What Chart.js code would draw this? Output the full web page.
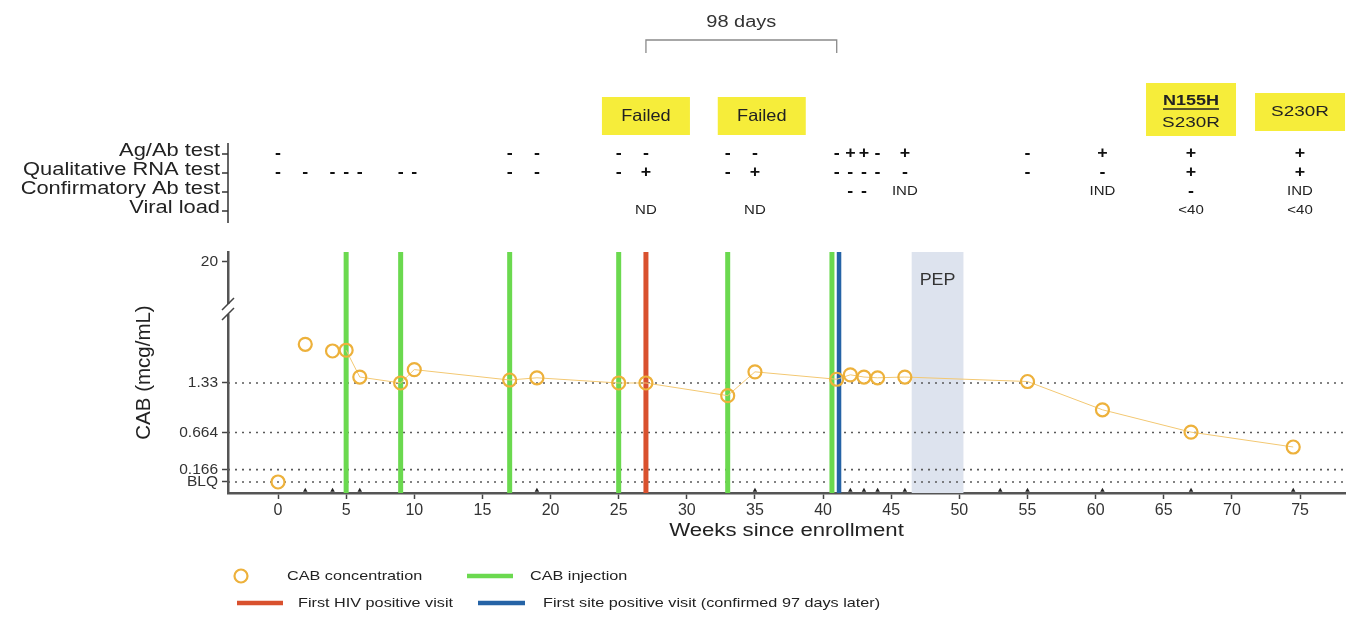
<!DOCTYPE html>
<html>
<head>
<meta charset="utf-8">
<script src="https://cdn.jsdelivr.net/npm/chart.js@4.4.1/dist/chart.umd.min.js"></script>
<style>
html,body{margin:0;padding:0;background:#fff;}
#wrap{width:1358px;height:620px;position:relative;}
</style>
</head>
<body>
<div id="wrap"><canvas id="c" width="1358" height="620"></canvas></div>
<script>
// ---------------- DATA ----------------
const weeks   = [0, 2, 4, 5, 6, 9, 10, 17, 19, 25, 27, 33, 35, 41, 42, 43, 44, 46, 55, 60.5, 67, 74.5];
const cabConc = [0, 1.85, 1.76, 1.77, 1.41, 1.33, 1.51, 1.37, 1.40, 1.33, 1.33, 1.16, 1.48, 1.38, 1.44, 1.41, 1.40, 1.41, 1.35, 0.97, 0.67, 0.47];

const injectionWeeks = [5, 9, 17, 25, 33, 40.65];
const firstHivPositiveWeek = [27];
const firstSitePositiveWeek = [41.17];
const pepWeeks = [46.5, 50.3];
const visitMarkWeeks = [2, 4, 6, 19, 35, 42, 43, 44, 46, 53, 55, 60.5, 67, 74.5];

const xTicks = [0, 5, 10, 15, 20, 25, 30, 35, 40, 45, 50, 55, 60, 65, 70, 75];
const yTickValues = [0, 0.166, 0.664, 1.33, 2.96];
const yTickLabels = ['BLQ', '0.166', '0.664', '1.33', '20'];
const yRefLines = [0, 0.166, 0.664, 1.33];

const rowLabels = ['Ag/Ab test', 'Qualitative RNA test', 'Confirmatory Ab test', 'Viral load'];
const agAbWeeks   = [0, 17, 19, 25, 27, 33, 35, 41, 42, 43, 44, 46, 55, 60.5, 67, 75];
const agAbResults = ['-', '-', '-', '-', '-', '-', '-', '-', '+', '+', '-', '+', '-', '+', '+', '+'];
const rnaWeeks    = [0, 2, 4, 5, 6, 9, 10, 17, 19, 25, 27, 33, 35, 41, 42, 43, 44, 46, 55, 60.5, 67, 75];
const rnaResults  = ['-', '-', '-', '-', '-', '-', '-', '-', '-', '-', '+', '-', '+', '-', '-', '-', '-', '-', '-', '-', '+', '+'];
const confWeeks   = [42, 43, 46, 60.5, 67, 75];
const confResults = ['-', '-', 'IND', 'IND', '-', 'IND'];
const vlWeeks     = [27, 35, 67, 75];
const vlResults   = ['ND', 'ND', '<40', '<40'];

const failedWeeks = [27, 35.5];
const failedLabel = 'Failed';
const resistanceWeeks = [67, 75];
const resistanceLabels = [['N155H', 'S230R'], ['S230R']];
const bracketWeeks = [27, 41];
const bracketLabel = '98 days';
const pepLabel = 'PEP';

const legendLabels = ['CAB concentration', 'CAB injection', 'First HIV positive visit', 'First site positive visit (confirmed 97 days later)'];
const xTitle = 'Weeks since enrollment';
const yTitle = 'CAB (mcg/mL)';

// ---------------- STYLE ----------------
const FAM = "'Liberation Sans', Arial, Helvetica, sans-serif";
const X_MIN = -3.67, X_MAX = 78.3;
const Y_MIN = -0.148, Y_MAX = 3.09;
const C_ORANGE = '#edb13b', C_ORANGE_LINE = '#f3c872';
const C_GREEN = '#6bd94f', C_RED = '#d9512e', C_BLUE = '#2563a6';
const YELLOW = '#f6ed3a';

Chart.defaults.font.family = FAM;

function vlinesData(arr) {
  const out = [];
  arr.forEach(w => { out.push({x: w, y: Y_MIN}); out.push({x: w, y: Y_MAX}); out.push({x: w, y: null}); });
  return out;
}
function hlinesData(arr) {
  const out = [];
  arr.forEach(v => { out.push({x: X_MIN, y: v}); out.push({x: X_MAX, y: v}); out.push({x: X_MAX, y: null}); });
  return out;
}

function txt(ctx, s, x, y, size, opts = {}) {
  ctx.save();
  ctx.font = (opts.bold ? 'bold ' : '') + size + 'px ' + FAM;
  ctx.fillStyle = opts.color || '#222';
  ctx.textBaseline = 'middle';
  ctx.textAlign = opts.align || 'left';
  ctx.translate(x, y);
  if (opts.rot) ctx.rotate(opts.rot);
  ctx.scale(opts.sx || 1.2, 1);
  ctx.fillText(s, 0, 0);
  const w = ctx.measureText(s).width * (opts.sx || 1.2);
  ctx.restore();
  return w;
}

const pepPlugin = {
  id: 'pep',
  beforeDatasetsDraw(chart) {
    const {ctx, chartArea: a, scales: {x}} = chart;
    const x0 = x.getPixelForValue(pepWeeks[0]), x1 = x.getPixelForValue(pepWeeks[1]);
    ctx.save();
    ctx.fillStyle = '#dde3ee';
    ctx.fillRect(x0, a.top, x1 - x0, a.bottom - a.top);
    ctx.restore();
    txt(ctx, pepLabel, (x0 + x1) / 2, 281, 16, {align: 'center', sx: 1.12, color: '#333'});
  }
};

const annoPlugin = {
  id: 'anno',
  afterDraw(chart) {
    const {ctx, chartArea: a, scales: {x, y}} = chart;
    const X = w => x.getPixelForValue(w);

    // --- axis break on y axis ---
    ctx.save();
    const by = 309;
    ctx.fillStyle = '#fff';
    ctx.fillRect(a.left - 3, by - 5, 6, 10);
    ctx.strokeStyle = '#444';
    ctx.lineWidth = 1.5;
    ctx.beginPath();
    ctx.moveTo(a.left - 6, by + 1); ctx.lineTo(a.left + 6, by - 11);
    ctx.moveTo(a.left - 6, by + 11); ctx.lineTo(a.left + 6, by - 1);
    ctx.stroke();
    ctx.restore();

    // --- top test table ---
    const rowY = [153, 172, 191, 210];
    rowLabels.forEach((l, i) => txt(ctx, l, 220, rowY[i] - 2, 17.5, {align: 'right', sx: 1.25, color: '#222'}));
    ctx.save();
    ctx.strokeStyle = '#333'; ctx.lineWidth = 1.5;
    ctx.beginPath();
    ctx.moveTo(228, 143); ctx.lineTo(228, 223);
    rowY.forEach(ry => { ctx.moveTo(222, ry + 1); ctx.lineTo(228, ry + 1); });
    ctx.stroke();
    ctx.restore();
    const rows = [[agAbWeeks, agAbResults], [rnaWeeks, rnaResults], [confWeeks, confResults], [vlWeeks, vlResults]];
    rows.forEach(([ws, rs], i) => {
      ws.forEach((w, j) => {
        const r = rs[j];
        if (r === '+' || r === '-') txt(ctx, r, X(w), rowY[i], 17, {align: 'center', bold: true, sx: 1.05, color: '#111'});
        else txt(ctx, r, X(w), rowY[i] + 1, 12.5, {align: 'center', sx: 1.2, color: '#222'});
      });
    });

    // --- yellow boxes ---
    ctx.save();
    ctx.fillStyle = YELLOW;
    failedWeeks.forEach(w => ctx.fillRect(X(w) - 44, 97, 88, 38));
    resistanceWeeks.forEach((w, i) => {
      if (resistanceLabels[i].length > 1) ctx.fillRect(X(w) - 45, 83, 90, 53);
      else ctx.fillRect(X(w) - 45, 93, 90, 38);
    });
    ctx.restore();
    failedWeeks.forEach(w => txt(ctx, failedLabel, X(w), 116, 16.5, {align: 'center', sx: 1.1, color: '#222'}));
    resistanceWeeks.forEach((w, i) => {
      const labs = resistanceLabels[i];
      if (labs.length > 1) {
        const tw = txt(ctx, labs[0], X(w), 101, 15, {align: 'center', bold: true, sx: 1.2, color: '#222'});
        ctx.save(); ctx.strokeStyle = '#222'; ctx.lineWidth = 1.3;
        ctx.beginPath(); ctx.moveTo(X(w) - tw / 2, 109); ctx.lineTo(X(w) + tw / 2, 109); ctx.stroke(); ctx.restore();
        txt(ctx, labs[1], X(w), 123, 15.5, {align: 'center', sx: 1.22, color: '#222'});
      } else {
        txt(ctx, labs[0], X(w), 112, 15.5, {align: 'center', sx: 1.22, color: '#222'});
      }
    });

    // --- bracket ---
    const b0 = X(bracketWeeks[0]), b1 = X(bracketWeeks[1]);
    ctx.save();
    ctx.strokeStyle = '#8a8a8a'; ctx.lineWidth = 1.3;
    ctx.beginPath();
    ctx.moveTo(b0, 53); ctx.lineTo(b0, 40); ctx.lineTo(b1, 40); ctx.lineTo(b1, 53);
    ctx.stroke();
    ctx.restore();
    txt(ctx, bracketLabel, (b0 + b1) / 2, 23, 16, {align: 'center', sx: 1.25, color: '#333'});

    // --- axis titles ---
    txt(ctx, xTitle, (a.left + a.right) / 2, 531, 18, {align: 'center', sx: 1.23, color: '#222'});
    txt(ctx, yTitle, 144, (a.top + a.bottom) / 2, 20.5, {align: 'center', sx: 1.0, rot: -Math.PI / 2, color: '#222'});

    // --- legend ---
    ctx.save();
    ctx.strokeStyle = C_ORANGE; ctx.lineWidth = 2.2;
    ctx.beginPath(); ctx.arc(241, 576, 6.5, 0, Math.PI * 2); ctx.stroke();
    ctx.lineWidth = 4.5;
    ctx.strokeStyle = C_GREEN; ctx.beginPath(); ctx.moveTo(467, 576); ctx.lineTo(513, 576); ctx.stroke();
    ctx.strokeStyle = C_RED; ctx.beginPath(); ctx.moveTo(237, 603); ctx.lineTo(283, 603); ctx.stroke();
    ctx.strokeStyle = C_BLUE; ctx.beginPath(); ctx.moveTo(478, 603); ctx.lineTo(525, 603); ctx.stroke();
    ctx.restore();
    txt(ctx, legendLabels[0], 287, 576, 13.3, {sx: 1.22, color: '#222'});
    txt(ctx, legendLabels[1], 530, 576, 13.3, {sx: 1.22, color: '#222'});
    txt(ctx, legendLabels[2], 298, 603, 13.3, {sx: 1.22, color: '#222'});
    txt(ctx, legendLabels[3], 543, 603, 13.3, {sx: 1.22, color: '#222'});
  }
};

new Chart(document.getElementById('c'), {
  type: 'line',
  data: {
    datasets: [
      {
        label: 'CAB concentration',
        data: weeks.map((w, i) => ({x: w, y: cabConc[i]})),
        borderColor: C_ORANGE_LINE,
        borderWidth: 1,
        tension: 0,
        pointRadius: 6.5,
        pointBorderWidth: 2.2,
        pointBorderColor: C_ORANGE,
        pointBackgroundColor: 'rgba(255,255,255,0)',
        segment: {borderColor: c => (c.p0.parsed.x < 5 ? 'rgba(0,0,0,0)' : C_ORANGE_LINE)},
        clip: false
      },
      {
        label: 'visits',
        data: visitMarkWeeks.map(w => ({x: w, y: Y_MIN + 0.035})),
        showLine: false,
        pointStyle: 'triangle',
        pointRadius: 2.6,
        pointBackgroundColor: '#222',
        pointBorderColor: '#222',
        pointBorderWidth: 0
      },
      {
        label: 'First site positive visit',
        data: vlinesData(firstSitePositiveWeek),
        borderColor: C_BLUE, borderWidth: 4.5, pointRadius: 0, spanGaps: false
      },
      {
        label: 'CAB injection',
        data: vlinesData(injectionWeeks),
        borderColor: C_GREEN, borderWidth: 5, pointRadius: 0, spanGaps: false
      },
      {
        label: 'First HIV positive visit',
        data: vlinesData(firstHivPositiveWeek),
        borderColor: C_RED, borderWidth: 5, pointRadius: 0, spanGaps: false
      },
      {
        label: 'ref',
        data: hlinesData(yRefLines),
        borderColor: '#5a5a5a', borderWidth: 1.6, borderDash: [2, 5], pointRadius: 0, spanGaps: false
      }
    ]
  },
  options: {
    responsive: false,
    animation: false,
    devicePixelRatio: 1,
    events: [],
    layout: {padding: {top: 252, right: 13, left: 0, bottom: 0}},
    plugins: {legend: {display: false}, tooltip: {enabled: false}},
    scales: {
      x: {
        type: 'linear',
        min: X_MIN, max: X_MAX,
        afterBuildTicks: s => { s.ticks = xTicks.map(v => ({value: v})); },
        afterFit: s => { s.height = 127; },
        ticks: {font: {size: 16}, color: '#333', padding: 2, maxRotation: 0, autoSkip: false},
        grid: {drawOnChartArea: false, drawTicks: true, tickLength: 6, tickColor: '#444', tickWidth: 1.5},
        border: {color: '#555', width: 2.5}
      },
      y: {
        type: 'linear',
        min: Y_MIN, max: Y_MAX,
        afterBuildTicks: s => { s.ticks = yTickValues.map(v => ({value: v})); },
        afterFit: s => { s.width = 228; },
        ticks: {
          font: {size: 15.5}, color: '#333', padding: 4, autoSkip: false,
          callback: v => yTickLabels[yTickValues.indexOf(v)]
        },
        grid: {drawOnChartArea: false, drawTicks: true, tickLength: 6, tickColor: '#444', tickWidth: 1.5},
        border: {color: '#555', width: 2.5}
      }
    }
  },
  plugins: [pepPlugin, annoPlugin]
});
</script>
</body>
</html>
